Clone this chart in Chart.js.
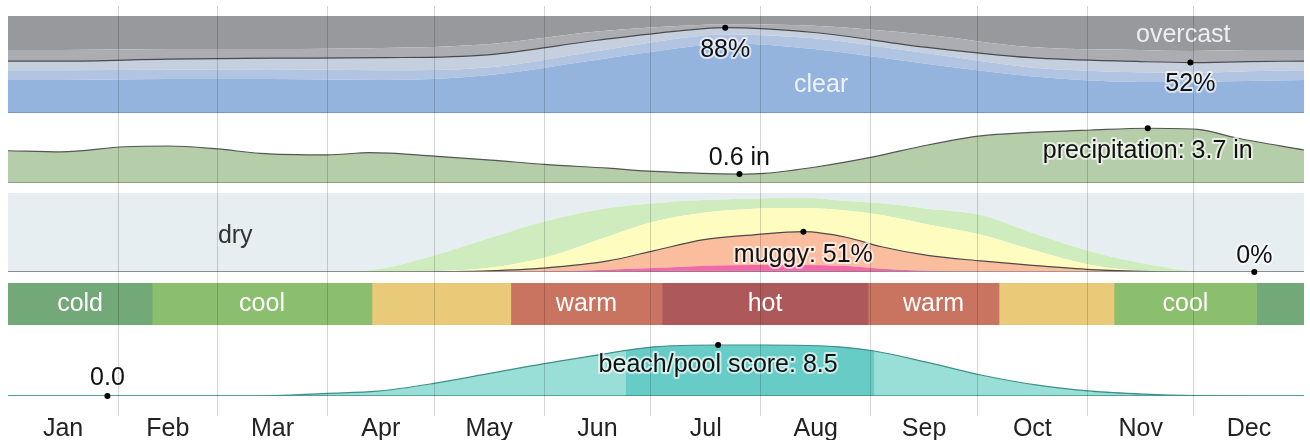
<!DOCTYPE html>
<html>
<head>
<meta charset="utf-8">
<script src="https://cdn.jsdelivr.net/npm/chart.js@4.4.1/dist/chart.umd.min.js"></script>
<style>
  html, body { margin: 0; padding: 0; background: #fff; }
  #wrap { position: relative; width: 1310px; height: 440px; overflow: hidden; }
  #wrap canvas { position: absolute; }
  #axisChart { pointer-events: none; }
</style>
</head>
<body>
<div id="wrap">
  <canvas id="cloudChart"></canvas>
  <canvas id="precipChart"></canvas>
  <canvas id="humidChart"></canvas>
  <canvas id="tempChart"></canvas>
  <canvas id="beachChart"></canvas>
  <canvas id="axisChart"></canvas>
</div>
<script>
// x is the day of the year (0 - 365)
const monthNames = ['Jan', 'Feb', 'Mar', 'Apr', 'May', 'Jun', 'Jul', 'Aug', 'Sep', 'Oct', 'Nov', 'Dec'];
const monthStarts = [31, 59, 90, 120, 151, 181, 212, 243, 273, 304, 334];
const monthMids = [15.5, 45, 74.5, 105, 135.5, 166, 196.5, 227.5, 258, 288.5, 319, 349.5];

// cloud cover, cumulative % of time
const cloudDays = [0, 15, 45, 74, 105, 135, 166, 196, 202, 227, 258, 288, 319, 333, 349, 365];
const clearPct = [34, 34, 35, 35, 34, 39, 55, 70, 72, 66, 51, 38, 32, 32, 33, 34];
const mostlyClearPct = [44, 44, 44.5, 45, 44, 47, 64, 80, 81, 77, 62, 47, 42, 41.5, 43, 44];
const partlyCloudyPct = [53.5, 53.5, 55.5, 56.5, 57, 60, 75, 87, 88, 83, 68, 57, 53, 52, 53, 53.5];
const mostlyCloudyPct = [65, 65, 66, 66, 67, 71, 84, 91, 91.5, 90, 81, 68, 65, 64, 65, 65];

// monthly precipitation (in)
const precipDays = [0, 15, 33, 45, 59, 71, 90, 102, 120, 136, 151, 169, 182, 206, 213, 228, 244, 259, 274, 287, 305, 321, 335, 346, 365];
const precipIn = [2.18, 2.1, 2.45, 2.5, 2.3, 2.0, 1.9, 2.05, 1.82, 1.55, 1.26, 1.0, 0.78, 0.6, 0.65, 1.1, 1.78, 2.57, 3.18, 3.4, 3.58, 3.7, 3.63, 3.04, 2.23];

// humidity comfort, cumulative % of time
const humDays = [0, 90, 105, 120, 135, 151, 169, 182, 196, 210, 224, 236, 246, 259, 274, 287, 305, 322, 335, 351, 365];
const miserablePct = [0, 0, 0, 0, 0, 0.3, 0.8, 1.2, 1.5, 1.5, 1.5, 1.3, 1, 0.6, 0.3, 0, 0, 0, 0, 0, 0];
const oppressivePct = [0, 0, 0, 0, 0, 0.8, 3, 5, 8, 9, 9, 7.5, 4, 1.5, 0.5, 0, 0, 0, 0, 0, 0];
const muggyPct = [0, 0, 0, 0.3, 1.5, 5, 14, 27, 41, 47, 51, 44, 32, 21, 14, 9, 3, 0.5, 0, 0, 0];
const humidPct = [0, 0, 0, 1, 5, 18, 45, 64, 75, 80, 81, 78, 72, 60, 47, 30, 9, 1, 0, 0, 0];
const comfortablePct = [0, 0, 4, 21, 42, 64, 81, 87, 91, 93, 94, 90, 87, 80, 72, 52, 26, 9, 1, 0, 0];

// temperature bands
const tempStart = [0, 40.6, 102.5, 141.6, 184.2, 242.2, 279.1, 311.5, 351.7];
const tempEnd = [40.6, 102.5, 141.6, 184.2, 242.2, 279.1, 311.5, 351.7, 365];
const tempBand = ['cold', 'cool', 'comfortable', 'warm', 'hot', 'warm', 'comfortable', 'cool', 'cold'];
const tempText = ['cold', 'cool', '', 'warm', 'hot', 'warm', '', 'cool', ''];

// beach/pool score (0-10)
const beachDays = [0, 28, 69, 90, 104, 120, 136, 151, 169, 174, 182, 200, 213, 234, 244, 259, 274, 290, 305, 320, 335, 350, 365];
const beachScore = [0, 0, 0, 0.45, 0.8, 2.1, 3.8, 5.4, 7.1, 7.6, 8.2, 8.5, 8.5, 8.2, 7.5, 5.6, 3.5, 1.8, 0.8, 0.3, 0.05, 0, 0];
const bestStart = 174, bestEnd = 244;

// ---- styles ----
const FONT = "'Liberation Sans', Arial, sans-serif";
const FONT_SIZE = 25;
const bandColor = { cold: '#73a878', cool: '#8bbf6e', comfortable: '#e8ca78', warm: '#c97461', hot: '#ae5959' };
const gridColor = 'rgba(0,0,0,0.17)';

function pts(days, vals) {
  return days.map((d, i) => ({ x: d, y: vals[i] }));
}
function area(days, vals, color, fill) {
  return { data: pts(days, vals), backgroundColor: color, borderWidth: 0, pointRadius: 0,
           fill: fill, cubicInterpolationMode: 'monotone' };
}
function line(days, vals, color, width) {
  return { data: pts(days, vals), borderColor: color, borderWidth: width || 1.2, pointRadius: 0,
           fill: false, cubicInterpolationMode: 'monotone', order: -1 };
}
function baseline(color) {
  return { data: [{ x: 0, y: 0 }, { x: 365, y: 0 }], borderColor: color, borderWidth: 1.5,
           pointRadius: 0, fill: false, order: -2 };
}

// dots with value labels + free text labels
function markPlugin(points, texts) {
  return {
    id: 'marks',
    afterDatasetsDraw(chart) {
      const ctx = chart.ctx;
      ctx.save();
      ctx.font = FONT_SIZE + 'px ' + FONT;
      ctx.textAlign = 'center';
      ctx.textBaseline = 'middle';
      ctx.lineJoin = 'round';
      (texts || []).forEach(t => {
        ctx.fillStyle = t.color;
        ctx.fillText(t.text, chart.scales.x.getPixelForValue(t.x), chart.scales.y.getPixelForValue(t.y));
      });
      (points || []).forEach(p => {
        const el = chart.getDatasetMeta(p.ds).data[p.i];
        ctx.fillStyle = '#000';
        ctx.beginPath();
        ctx.arc(el.x, el.y, 3, 0, Math.PI * 2);
        ctx.fill();
        ctx.lineWidth = 4;
        ctx.strokeStyle = 'rgba(255,255,255,0.65)';
        ctx.strokeText(p.text, el.x, el.y + p.dy);
        ctx.fillStyle = '#111';
        ctx.fillText(p.text, el.x, el.y + p.dy);
      });
      ctx.restore();
    }
  };
}

function panel(id, top, height) {
  const c = document.getElementById(id);
  c.width = 1296; c.height = height + 4;
  c.style.left = '8px'; c.style.top = top + 'px';
  c.style.width = '1296px'; c.style.height = (height + 4) + 'px';
  return c;
}
function opts(ymin, ymax) {
  return {
    responsive: false, animation: false, events: [],
    layout: { padding: { bottom: 4 } },
    plugins: { legend: { display: false }, tooltip: { enabled: false } },
    scales: {
      x: { type: 'linear', min: 0, max: 365, display: false },
      y: { min: ymin, max: ymax, display: false }
    }
  };
}

// cloud cover
new Chart(panel('cloudChart', 16, 97), {
  type: 'line',
  data: { datasets: [
    area(cloudDays, clearPct, '#94b4de', 'origin'),
    area(cloudDays, mostlyClearPct, '#b1c5e2', '-1'),
    area(cloudDays, partlyCloudyPct, '#c6cfdd', '-1'),
    area(cloudDays, mostlyCloudyPct, '#abadb2', '-1'),
    area(cloudDays, mostlyCloudyPct, '#98999d', 'end'),
    line(cloudDays, partlyCloudyPct, '#4a4a4a'),
    baseline('#6f8fb9')
  ] },
  options: opts(0, 100),
  plugins: [markPlugin(
    [{ ds: 5, i: 8, text: '88%', dy: 22 }, { ds: 5, i: 13, text: '52%', dy: 22 }],
    [{ x: 229, y: 29, text: 'clear', color: '#eef3fa' }, { x: 331, y: 80, text: 'overcast', color: '#eeeeee' }]
  )]
});

// precipitation
new Chart(panel('precipChart', 113, 70), {
  type: 'line',
  data: { datasets: [
    area(precipDays, precipIn, '#b5cda9', 'origin'),
    line(precipDays, precipIn, '#555'),
    baseline('#7a8f74')
  ] },
  options: opts(0, 4.73),
  plugins: [markPlugin(
    [{ ds: 1, i: 13, text: '0.6 in', dy: -16 }, { ds: 1, i: 21, text: 'precipitation: 3.7 in', dy: 23 }]
  )]
});

// humidity comfort
new Chart(panel('humidChart', 193, 79), {
  type: 'line',
  data: { datasets: [
    area(humDays, miserablePct, '#d83a86', 'origin'),
    area(humDays, oppressivePct, '#f06aa8', '-1'),
    area(humDays, muggyPct, '#fabd9d', '-1'),
    area(humDays, humidPct, '#fffcc0', '-1'),
    area(humDays, comfortablePct, '#cfecbf', '-1'),
    area(humDays, comfortablePct, '#e6eef2', 'end'),
    line(humDays, muggyPct, '#4a4a4a'),
    baseline('#8a8a8a')
  ] },
  options: opts(0, 100),
  plugins: [markPlugin(
    [{ ds: 6, i: 10, text: 'muggy: 51%', dy: 23 }, { ds: 6, i: 19, text: '0%', dy: -16 }],
    [{ x: 64, y: 45, text: 'dry', color: '#333' }]
  )]
});

// temperature bands
const tempOpts = opts(0, 1);
tempOpts.indexAxis = 'y';
tempOpts.layout.padding.bottom = 0;
tempOpts.scales.y = { display: false };
new Chart(panel('tempChart', 283, 38), {
  type: 'bar',
  data: {
    labels: ['t'],
    datasets: tempBand.map((b, i) => ({
      data: [[tempStart[i], tempEnd[i]]], backgroundColor: bandColor[b], borderWidth: 0,
      barPercentage: 1, categoryPercentage: 1, grouped: false
    }))
  },
  options: tempOpts,
  plugins: [{
    id: 'bandText',
    afterDatasetsDraw(chart) {
      const ctx = chart.ctx;
      ctx.save();
      ctx.font = FONT_SIZE + 'px ' + FONT;
      ctx.textAlign = 'center';
      ctx.textBaseline = 'middle';
      ctx.fillStyle = '#fff';
      tempText.forEach((t, i) => {
        if (!t) return;
        const el = chart.getDatasetMeta(i).data[0];
        ctx.fillText(t, (el.x + el.base) / 2, el.y);
      });
      ctx.restore();
    }
  }]
});

// beach/pool score: light area, darker best-time window on top, then the line
const beachLight = area(beachDays, beachScore, '#9adfd7', 'origin');
beachLight.order = 2;
const beachBest = area(beachDays, beachScore, 'rgba(0,0,0,0)', 'origin');
beachBest.order = 1;
beachBest.segment = {
  backgroundColor: c => (c.p0.parsed.x >= bestStart && c.p1.parsed.x <= bestEnd) ? '#66ccc5' : 'rgba(0,0,0,0)'
};
new Chart(panel('beachChart', 336, 60), {
  type: 'line',
  data: { datasets: [
    beachLight,
    beachBest,
    line(beachDays, beachScore, '#3d8f8a'),
    baseline('#3d8f8a')
  ] },
  options: opts(0, 10),
  plugins: [markPlugin(
    [{ ds: 2, i: 11, text: 'beach/pool score: 8.5', dy: 20 }, { ds: 2, i: 1, text: '0.0', dy: -18 }]
  )]
});

// month grid + labels on top
const axisCanvas = document.getElementById('axisChart');
axisCanvas.width = 1310; axisCanvas.height = 440;
axisCanvas.style.left = '0px'; axisCanvas.style.top = '0px';
new Chart(axisCanvas, {
  type: 'line',
  data: { datasets: [] },
  options: {
    responsive: false, animation: false, events: [],
    layout: { padding: { left: 8, right: 6, top: 6, bottom: -3 } },
    plugins: { legend: { display: false }, tooltip: { enabled: false } },
    scales: {
      x: {
        type: 'linear', min: 0, max: 365, position: 'bottom',
        afterBuildTicks: s => {
          s.ticks = monthStarts.concat(monthMids).sort((a, b) => a - b).map(v => ({ value: v }));
        },
        ticks: {
          autoSkip: false, maxRotation: 0, padding: 1, color: '#222',
          font: { size: FONT_SIZE, family: FONT, lineHeight: 1 },
          callback: v => {
            const k = monthMids.indexOf(v);
            return k >= 0 ? monthNames[k] : '';
          }
        },
        grid: {
          drawTicks: false, lineWidth: 1,
          color: c => (c.tick && monthStarts.includes(c.tick.value)) ? gridColor : 'rgba(0,0,0,0)'
        },
        border: { display: false }
      },
      y: { display: false, min: 0, max: 1 }
    }
  }
});
</script>
</body>
</html>
